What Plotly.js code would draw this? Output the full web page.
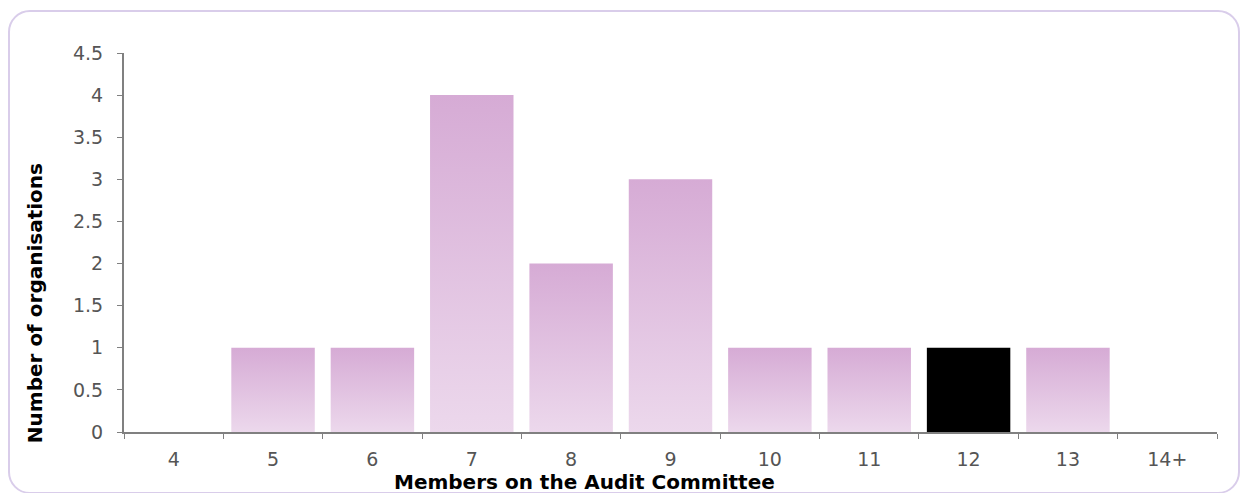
<!DOCTYPE html>
<html>
<head>
<meta charset="utf-8">
<script src="https://cdn.plot.ly/plotly-3.0.1.min.js"></script>
<style>
  html, body { margin: 0; padding: 0; background: #ffffff; overflow: hidden; }
  #frame { position: absolute; left: 8px; top: 10px; width: 1232px; height: 484px;
           border: 2px solid #d9cdea; border-radius: 22px; box-sizing: border-box; }
  #chart { position: absolute; left: 0; top: 0; width: 1253px; height: 493px; }
</style>
</head>
<body>
<div id="frame"></div>
<div id="chart"></div>
<script>
const categories = ["4", "5", "6", "7", "8", "9", "10", "11", "12", "13", "14+"];
const organisations = [0, 1, 1, 4, 2, 3, 1, 1, 1, 1, 0];
const highlightCategory = "12";
const yTickValues = [0, 0.5, 1, 1.5, 2, 2.5, 3, 3.5, 4, 4.5];
const yTickLabels = ["0", "0.5", "1", "1.5", "2", "2.5", "3", "3.5", "4", "4.5"];
const xTitle = "Members on the Audit Committee";
const yTitle = "Number of organisations";

const barColors = categories.map(c => c === highlightCategory ? "#000000" : "#dfbbdf");
const fontFamily = "DejaVu Sans, Verdana, sans-serif";
const titleFont = { size: 20, color: "#000000", family: fontFamily, weight: "bold" };

const trace = {
  type: "bar",
  x: categories,
  y: organisations,
  marker: { color: barColors, line: { width: 0 } },
  hoverinfo: "x+y"
};

const layout = {
  width: 1253, height: 493,
  margin: { l: 124, r: 36, t: 53, b: 61 },
  paper_bgcolor: "rgba(0,0,0,0)",
  plot_bgcolor: "rgba(0,0,0,0)",
  bargap: 0.16,
  showlegend: false,
  font: { family: fontFamily, size: 19, color: "#555555" },
  xaxis: {
    type: "category",
    tickson: "boundaries",
    ticks: "outside", ticklen: 5, tickwidth: 1, tickcolor: "#808080",
    ticklabelstandoff: 9,
    showline: true, linecolor: "#808080", linewidth: 2,
    showgrid: false, zeroline: false,
    tickfont: { size: 19, color: "#555555" }
  },
  yaxis: {
    range: [0, 4.5],
    tickvals: yTickValues, ticktext: yTickLabels,
    ticks: "outside", ticklen: 5, tickwidth: 1, tickcolor: "#808080",
    ticklabelstandoff: 10,
    showline: true, linecolor: "#808080", linewidth: 2,
    showgrid: false, zeroline: false,
    tickfont: { size: 19, color: "#555555" }
  },
  annotations: [
    { text: xTitle, xref: "paper", yref: "paper", x: 0.421, y: 0,
      xanchor: "center", yanchor: "middle", yshift: -50, showarrow: false, font: titleFont },
    { text: yTitle, xref: "paper", yref: "paper", x: 0, y: 0.34, textangle: -90,
      xanchor: "center", yanchor: "middle", xshift: -89, showarrow: false, font: titleFont }
  ]
};

Plotly.newPlot("chart", [trace], layout, { displayModeBar: false, staticPlot: true }).then(gd => {
  const svg = gd.querySelector("svg.main-svg");
  const ns = "http://www.w3.org/2000/svg";
  let defs = svg.querySelector("defs");
  if (!defs) { defs = document.createElementNS(ns, "defs"); svg.insertBefore(defs, svg.firstChild); }
  const grad = document.createElementNS(ns, "linearGradient");
  grad.setAttribute("id", "barGrad");
  grad.setAttribute("x1", "0"); grad.setAttribute("y1", "0");
  grad.setAttribute("x2", "0"); grad.setAttribute("y2", "1");
  [["0", "#d6abd5"], ["1", "#ecd8ec"]].forEach(([o, c]) => {
    const s = document.createElementNS(ns, "stop");
    s.setAttribute("offset", o); s.setAttribute("stop-color", c);
    grad.appendChild(s);
  });
  defs.appendChild(grad);
  gd.querySelectorAll(".bars .point path").forEach((p, i) => {
    if (categories[i] !== highlightCategory) p.style.fill = "url(#barGrad)";
  });
});
</script>
</body>
</html>
